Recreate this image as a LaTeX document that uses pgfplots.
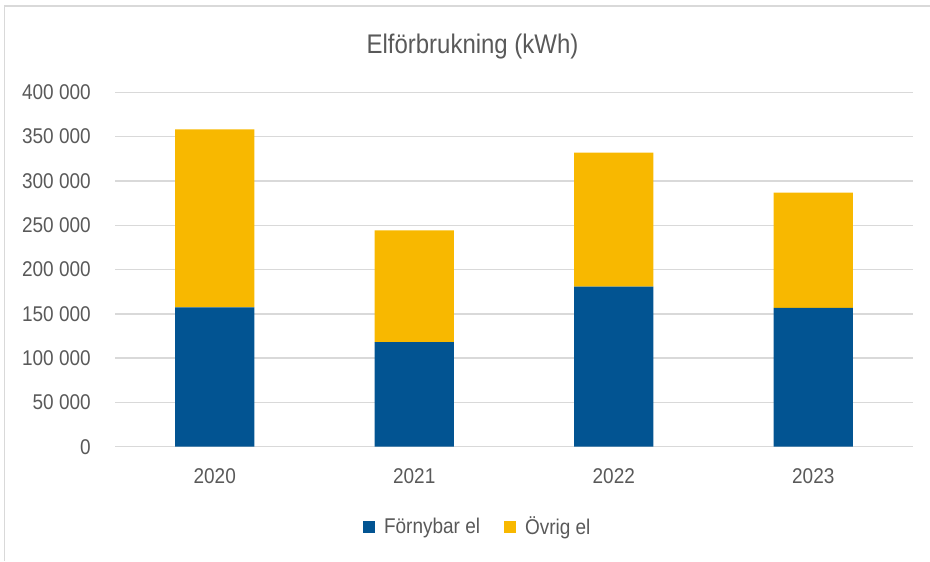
\documentclass[border=0pt]{standalone}
\usepackage{fontspec}
\setmainfont{Liberation Sans}[FakeStretch=0.89]
\usepackage{pgfplots}
\pgfplotsset{compat=1.18}
\definecolor{elblue}{RGB}{2,84,146}
\definecolor{elyellow}{RGB}{248,184,0}
\definecolor{txtgray}{RGB}{89,89,89}
\definecolor{gridgray}{RGB}{217,217,217}
\begin{document}
\begin{tikzpicture}
\path[use as bounding box] (0pt,0pt) rectangle (697.5pt,420.75pt);
% chart frame
\draw[gridgray, line width=1.1pt] (3.4pt,0pt) -- (3.4pt,416.25pt) -- (697.5pt,416.25pt);
\begin{axis}[
  at={(86.25pt,85.7pt)}, anchor=south west,
  scale only axis, width=598.5pt, height=265.8pt,
  ybar stacked, bar width=59.5pt,
  xmin=-0.5, xmax=3.5, ymin=0, ymax=400000,
  xtick={0,1,2,3}, xticklabels={2020,2021,2022,2023},
  ytick={0,50000,100000,150000,200000,250000,300000,350000,400000},
  yticklabels={0,50 000,100 000,150 000,200 000,250 000,300 000,350 000,400 000},
  scaled y ticks=false,
  ymajorgrids, grid style={gridgray, line width=1.1pt},
  axis line style={draw=none}, major tick length=0pt,
  tick label style={font=\fontsize{16}{18}\selectfont, text=txtgray},
  yticklabel style={anchor=east, inner sep=0pt, xshift=-18pt},
  xticklabel style={anchor=north, inner sep=0pt, yshift=-16pt},
  title={Elförbrukning (kWh)},
  title style={at={(0.448,1.111)}, anchor=base, inner sep=0pt, yshift=-6pt,
    font=\fontsize{20.2}{24}\selectfont, text=txtgray},
  legend columns=2,
  legend style={at={(0.455,-0.2266)}, anchor=center, draw=none, fill=none,
    font=\fontsize{16}{18}\selectfont, text=txtgray,
    /tikz/every odd column/.append style={column sep=4.5pt},
    /tikz/every even column/.append style={column sep=16pt},
    inner sep=0pt},
  legend cell align=left,
]
\addplot[fill=elblue, draw=none,
  legend image code/.code={\fill[elblue] (0pt,-4.6pt) rectangle (9.2pt,4.6pt);}]
  coordinates {(0,157400) (1,118200) (2,180600) (3,156600)};
\addlegendentry{Förnybar el}
\addplot[fill=elyellow, draw=none,
  legend image code/.code={\fill[elyellow] (0pt,-4.6pt) rectangle (9.2pt,4.6pt);}]
  coordinates {(0,200900) (1,126100) (2,151300) (3,130200)};
\addlegendentry{Övrig el}
\end{axis}
\end{tikzpicture}
\end{document}
